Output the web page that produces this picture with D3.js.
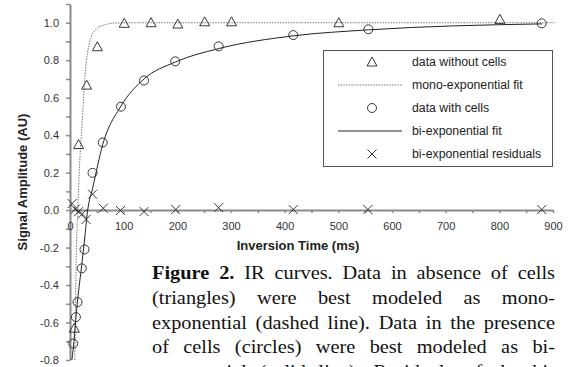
<!DOCTYPE html>
<html>
<head>
<meta charset="utf-8">
<script src="https://cdn.jsdelivr.net/npm/d3@7"></script>
<style>
  body { margin: 0; background: #fff; }
  svg { display: block; }
</style>
</head>
<body>
<svg id="chart" width="574" height="367"></svg>
<script>
// data without cells (triangles)
const triT = [8, 16, 31, 51, 101, 151, 201, 251, 301, 501, 801];
const triY = [-0.63, 0.35, 0.667, 0.872, 0.997, 1.0, 0.993, 1.005, 1.005, 1.0, 1.018];
// data with cells (circles)
const cirT = [6, 11, 14, 22, 27, 42, 61, 95, 138, 196, 277, 416, 556, 879];
const cirY = [-0.712, -0.571, -0.491, -0.311, -0.21, 0.199, 0.361, 0.552, 0.692, 0.794, 0.874, 0.934, 0.965, 0.997];
// bi-exponential residuals (crosses)
const resT = [4, 10, 16, 23, 30, 42, 62, 94, 138, 197, 277, 416, 555, 879];
const resY = [0.035, 0.005, -0.008, -0.02, -0.05, 0.085, 0.01, -0.002, -0.008, 0.003, 0.013, 0.003, 0.003, 0.003];
// fitted curves
const monoT = [9, 12, 14.5, 18, 23, 26, 30, 37, 47, 62, 88, 150, 905];
const monoY = [-0.8, -0.2, 0.0, 0.25, 0.48, 0.64, 0.78, 0.9, 0.96, 0.987, 0.999, 1.0, 1.0];
const biT = [3.5, 6, 11, 14, 22, 27, 33, 42, 61, 95, 138, 196, 277, 416, 556, 880];
const biY = [-0.8, -0.74, -0.575, -0.485, -0.29, -0.16, 0.0, 0.115, 0.35, 0.555, 0.70, 0.79, 0.862, 0.93, 0.962, 0.994];

const legendLabels = ["data without cells", "mono-exponential fit", "data with cells", "bi-exponential fit", "bi-exponential residuals"];
const captionLines = [
  "Figure 2. IR curves. Data in absence of cells",
  "(triangles) were best modeled as mono-",
  "exponential (dashed line). Data in the presence",
  "of cells (circles) were best modeled as bi-",
  "exponential (solid line). Residuals of the bi-"
];

const AXIS_COLOR = "#8a8a8a";
const MARK_COLOR = "#222";
const FONT = "'Liberation Sans', Arial, sans-serif";

const svg = d3.select("#chart");
const x = d3.scaleLinear().domain([0, 900]).range([70, 553]);
const y = d3.scaleLinear().domain([-0.8, 1.1]).range([360, 4]);

// axes
const yTicks = d3.range(-8, 12).map(d => d / 10);
const xTicks = d3.range(0, 901, 50);

const yAxis = svg.append("g")
  .attr("transform", "translate(" + x(0) + ",0)")
  .call(d3.axisLeft(y).tickValues(yTicks).tickSize(4).tickSizeOuter(0).tickPadding(7)
    .tickFormat(d => (Math.round(d * 10) % 2 === 0) ? d.toFixed(1) : ""));

const xAxis = svg.append("g")
  .attr("transform", "translate(0," + y(0) + ")")
  .call(d3.axisBottom(x).tickValues(xTicks).tickSize(3).tickSizeOuter(0).tickPadding(9)
    .tickFormat(d => d % 100 === 0 ? d : ""));

[yAxis, xAxis].forEach(g => {
  g.select(".domain").attr("stroke", AXIS_COLOR).attr("stroke-width", 2);
  g.selectAll(".tick line").attr("stroke", AXIS_COLOR).attr("stroke-width", 1.5);
  g.selectAll(".tick text").attr("fill", "#333").style("font-family", FONT).style("font-size", "11px");
});

svg.append("text")
  .attr("transform", "translate(24," + 182 + ") rotate(-90)")
  .attr("text-anchor", "middle")
  .attr("dominant-baseline", "middle")
  .style("font-family", FONT).style("font-size", "13px").style("font-weight", "bold")
  .attr("fill", "#222")
  .text("Signal Amplitude (AU)");

svg.append("text")
  .attr("x", 298).attr("y", 250)
  .attr("text-anchor", "middle")
  .style("font-family", FONT).style("font-size", "13px").style("font-weight", "bold")
  .attr("fill", "#222")
  .text("Inversion Time (ms)");

// fit lines
const line = d3.line().curve(d3.curveMonotoneX).x(d => x(d[0])).y(d => y(d[1]));

svg.append("path")
  .datum(d3.zip(monoT, monoY))
  .attr("d", line)
  .attr("fill", "none").attr("stroke", "#777").attr("stroke-width", 1)
  .attr("stroke-dasharray", "1.5,1.2");

svg.append("path")
  .datum(d3.zip(biT, biY))
  .attr("d", line)
  .attr("fill", "none").attr("stroke", "#222").attr("stroke-width", 1);

// markers
const triPath = "M0,-5L5,4L-5,4Z";
const crossPath = "M-4.5,-4.5L4.5,4.5M-4.5,4.5L4.5,-4.5";

svg.append("g").selectAll("path")
  .data(d3.zip(triT, triY)).enter().append("path")
  .attr("transform", d => "translate(" + x(d[0]) + "," + y(d[1]) + ")")
  .attr("d", triPath)
  .attr("fill", "none").attr("stroke", MARK_COLOR).attr("stroke-width", 0.9);

svg.append("g").selectAll("circle")
  .data(d3.zip(cirT, cirY)).enter().append("circle")
  .attr("cx", d => x(d[0])).attr("cy", d => y(d[1])).attr("r", 4.5)
  .attr("fill", "none").attr("stroke", MARK_COLOR).attr("stroke-width", 0.9);

svg.append("g").selectAll("path")
  .data(d3.zip(resT, resY)).enter().append("path")
  .attr("transform", d => "translate(" + x(d[0]) + "," + y(d[1]) + ")")
  .attr("d", crossPath)
  .attr("fill", "none").attr("stroke", MARK_COLOR).attr("stroke-width", 0.9);

// legend
const legend = svg.append("g");
legend.append("rect")
  .attr("x", 323.5).attr("y", 50.5).attr("width", 229).attr("height", 116)
  .attr("fill", "#fff").attr("stroke", "#555").attr("stroke-width", 1);

legendLabels.forEach((label, i) => {
  const cy = 62 + i * 23;
  const g = legend.append("g");
  if (i === 0) {
    g.append("path").attr("transform", "translate(372," + cy + ")").attr("d", triPath)
      .attr("fill", "none").attr("stroke", MARK_COLOR).attr("stroke-width", 0.9);
  } else if (i === 1) {
    g.append("line").attr("x1", 338).attr("x2", 402).attr("y1", cy).attr("y2", cy)
      .attr("stroke", "#777").attr("stroke-dasharray", "1.5,1.2");
  } else if (i === 2) {
    g.append("circle").attr("cx", 372).attr("cy", cy).attr("r", 4.5)
      .attr("fill", "none").attr("stroke", MARK_COLOR).attr("stroke-width", 0.9);
  } else if (i === 3) {
    g.append("line").attr("x1", 338).attr("x2", 402).attr("y1", cy).attr("y2", cy)
      .attr("stroke", "#222");
  } else {
    g.append("path").attr("transform", "translate(372," + cy + ")").attr("d", crossPath)
      .attr("fill", "none").attr("stroke", MARK_COLOR).attr("stroke-width", 0.9);
  }
  g.append("text").attr("x", 412).attr("y", cy + 4)
    .style("font-family", FONT).style("font-size", "12.3px").attr("fill", "#222")
    .text(label);
});

// caption, justified by hand (slightly widened glyphs like the source)
const capLeft = 152, capRight = 555, capTop = 279, capLead = 24.8, capSx = 1.1;
const caption = svg.append("g")
  .style("font-family", "'Liberation Serif', 'Times New Roman', serif")
  .style("font-size", "18.5px").attr("fill", "#111");

captionLines.forEach((txt, li) => {
  const words = txt.split(" ");
  const by = capTop + li * capLead;
  const nodes = words.map((w, wi) => caption.append("text")
    .style("font-weight", (li === 0 && wi < 2) ? "bold" : "normal")
    .text(w));
  const widths = nodes.map(n => n.node().getComputedTextLength() * capSx);
  const gap = (capRight - capLeft - d3.sum(widths)) / (words.length - 1);
  let cx = capLeft;
  nodes.forEach((n, i) => {
    n.attr("transform", "translate(" + cx + "," + by + ") scale(" + capSx + ",1)");
    cx += widths[i] + gap;
  });
});
</script>
</body>
</html>
